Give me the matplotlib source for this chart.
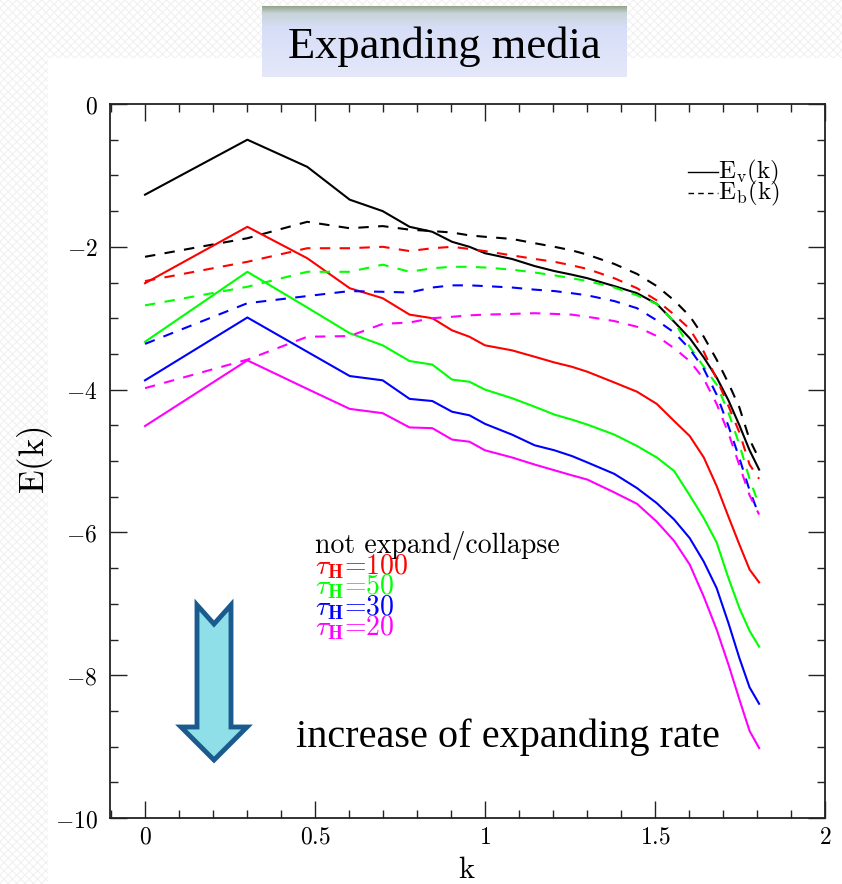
import numpy as np
import matplotlib
matplotlib.use("Agg")
import matplotlib.pyplot as plt
from matplotlib.patches import Polygon, Rectangle
from matplotlib.lines import Line2D
from matplotlib.ticker import MultipleLocator, FuncFormatter

plt.rcParams['mathtext.fontset'] = 'cm'
plt.rcParams['hatch.linewidth'] = 0.8

W, H = 842, 884

# wavenumbers of the spectrum; the horizontal axis is log10 of them
wavenumber = [1, 2, 3, 4, 5, 6, 7, 8, 9, 10, 12, 14, 16, 18, 20,
              24, 28, 32, 36, 40, 44, 48, 52, 56, 60, 64]

# log10 of kinetic (Ev) and magnetic (Eb) spectra
ev_static = [-1.27, -0.50, -0.88, -1.34, -1.50, -1.72, -1.79, -1.93, -2.00, -2.09, -2.17, -2.27, -2.34,
             -2.39, -2.44, -2.55, -2.65, -2.80, -3.05, -3.28, -3.55, -3.83, -4.15, -4.50, -4.85, -5.12]
eb_static = [-2.14, -1.88, -1.65, -1.74, -1.71, -1.76, -1.78, -1.80, -1.84, -1.86, -1.89, -1.95, -2.00,
             -2.05, -2.11, -2.24, -2.38, -2.55, -2.75, -2.97, -3.26, -3.58, -3.91, -4.25, -4.70, -4.97]

ev_tau100 = [-2.51, -1.72, -2.16, -2.58, -2.72, -2.95, -3.00, -3.17, -3.26, -3.38, -3.45, -3.54, -3.62,
             -3.68, -3.75, -3.90, -4.03, -4.20, -4.44, -4.65, -4.95, -5.35, -5.78, -6.17, -6.52, -6.70]
eb_tau100 = [-2.48, -2.21, -2.02, -2.02, -2.00, -2.06, -2.02, -2.00, -2.03, -2.06, -2.12, -2.17, -2.21,
             -2.26, -2.31, -2.44, -2.58, -2.75, -2.95, -3.15, -3.47, -3.85, -4.23, -4.60, -5.05, -5.25]

ev_tau50 = [-3.33, -2.35, -2.85, -3.21, -3.38, -3.60, -3.65, -3.86, -3.89, -4.00, -4.12, -4.24, -4.35,
            -4.42, -4.49, -4.63, -4.79, -4.95, -5.14, -5.48, -5.80, -6.14, -6.64, -7.06, -7.38, -7.60]
eb_tau50 = [-2.82, -2.56, -2.35, -2.35, -2.25, -2.35, -2.30, -2.28, -2.28, -2.29, -2.32, -2.36, -2.40,
            -2.44, -2.48, -2.57, -2.68, -2.80, -3.05, -3.40, -3.68, -3.93, -4.32, -4.77, -5.25, -5.62]

ev_tau30 = [-3.87, -2.99, -3.47, -3.81, -3.87, -4.13, -4.16, -4.31, -4.36, -4.48, -4.63, -4.78, -4.85,
            -4.93, -5.02, -5.18, -5.38, -5.59, -5.82, -6.08, -6.41, -6.78, -7.27, -7.76, -8.17, -8.40]
eb_tau30 = [-3.36, -2.79, -2.69, -2.62, -2.63, -2.64, -2.57, -2.54, -2.54, -2.55, -2.57, -2.60, -2.62,
            -2.65, -2.68, -2.76, -2.86, -3.03, -3.20, -3.43, -3.71, -4.07, -4.51, -4.96, -5.41, -5.76]

ev_tau20 = [-4.51, -3.59, -3.99, -4.27, -4.33, -4.53, -4.54, -4.70, -4.73, -4.85, -4.95, -5.05, -5.13,
            -5.20, -5.26, -5.44, -5.60, -5.85, -6.12, -6.45, -6.90, -7.36, -7.85, -8.34, -8.78, -9.02]
eb_tau20 = [-3.98, -3.58, -3.26, -3.25, -3.08, -3.06, -3.00, -2.98, -2.96, -2.95, -2.94, -2.93, -2.94,
            -2.95, -2.98, -3.04, -3.12, -3.25, -3.42, -3.60, -3.85, -4.20, -4.61, -5.06, -5.48, -5.75]

run_labels = ['not expand/collapse',
              r'$\tau_{\mathbf{H}}$=100',
              r'$\tau_{\mathbf{H}}$=50',
              r'$\tau_{\mathbf{H}}$=30',
              r'$\tau_{\mathbf{H}}$=20']
run_colors = ['black', '#ff0000', '#00ff00', '#0000ff', '#ff00ff']
ev_runs = [ev_static, ev_tau100, ev_tau50, ev_tau30, ev_tau20]
eb_runs = [eb_static, eb_tau100, eb_tau50, eb_tau30, eb_tau20]


def fpos(x, y):
    """pixel position (from top-left) to figure fraction"""
    return x / W, 1 - y / H


fig = plt.figure(figsize=(W / 100, H / 100), dpi=100)
fig.patch.set_facecolor('white')

# faint slide texture along the left edge and the top
for (x0, y0, w, h) in [(0, 0, 48, H), (48, 0, W - 48, 58)]:
    fx, fy = fpos(x0, y0 + h)
    fig.patches.append(Rectangle((fx, fy), w / W, h / H, transform=fig.transFigure,
                                 facecolor='white', edgecolor='#f1f1f1', hatch='xxxx',
                                 linewidth=0, zorder=-2))

# title banner with vertical gradient
tb = fig.add_axes([262 / W, 1 - 77 / H, 365 / W, 71 / H], zorder=1)
stops_pos = [0.0, 0.10, 0.30, 1.0]
stops_col = np.array([[0.58, 0.64, 0.56], [0.78, 0.83, 0.84], [0.84, 0.87, 0.97], [0.90, 0.91, 0.98]])
t = np.linspace(0, 1, 200)
grad = np.stack([np.interp(t, stops_pos, stops_col[:, c]) for c in range(3)], axis=-1)
tb.imshow(grad[:, None, :], aspect='auto', extent=(0, 1, 0, 1))
tb.set_axis_off()
tb.text(0.5, 0.42, 'Expanding media', ha='center', va='center',
        family='Liberation Serif', fontsize=32, color='black')

# main spectrum panel
ax = fig.add_axes([110 / W, 1 - 818 / H, (825 - 110) / W, (818 - 104) / H])
k = np.log10(wavenumber)
for ev, eb, col in zip(ev_runs, eb_runs, run_colors):
    ax.plot(k, ev, color=col, lw=1.5, solid_joinstyle='round')
    ax.plot(k, eb, color=col, lw=1.5, linestyle=(0, (5, 4.5)))

ax.set_xlim(-0.103, 2.0)
ax.set_ylim(-10, 0)
ax.xaxis.set_major_locator(MultipleLocator(0.5))
ax.xaxis.set_minor_locator(MultipleLocator(0.1))
ax.yaxis.set_major_locator(MultipleLocator(2))
ax.yaxis.set_minor_locator(MultipleLocator(0.5))
fmt = FuncFormatter(lambda v, _: '$%g$' % (0 if abs(v) < 1e-9 else v))
ax.xaxis.set_major_formatter(fmt)
ax.yaxis.set_major_formatter(fmt)
ax.tick_params(which='both', direction='in', top=True, right=True, width=1.0, color='#222222',
               labelsize=17)
ax.tick_params(which='major', length=12)
ax.tick_params(axis='x', which='major', pad=5)
ax.tick_params(axis='y', which='major', pad=9)
ax.tick_params(which='minor', length=6)
for s in ax.spines.values():
    s.set_linewidth(1.3)
    s.set_color('#222222')
ax.set_xlabel(r'$\mathrm{k}$', fontsize=22, va='top')
ax.xaxis.set_label_coords((467 - 110) / 715, (818 - 855) / 714)
ax.set_ylabel(r'$\mathrm{E(k)}$', fontsize=25, va='center')
ax.yaxis.set_label_coords((35 - 110) / 715, (818 - 460) / 714)

# line-style key (upper right)
for yy, ls, lab in [(172, '-', r'$\mathrm{E_{v}(k)}$'), (193, (0, (4, 3)), r'$\mathrm{E_{b}(k)}$')]:
    x0, y0 = fpos(688, yy)
    x1, _ = fpos(718, yy)
    fig.lines.append(Line2D([x0, x1], [y0, y0], transform=fig.transFigure, color='black',
                            lw=1.0, linestyle=ls))
    fig.text(x1, y0, lab, ha='left', va='center', fontsize=18, color='black')

# run labels
for i, (lab, col) in enumerate(zip(run_labels, run_colors)):
    fx, fy = fpos(315, 546 + 20.5 * i)
    fig.text(fx, fy, lab, ha='left', va='center', fontsize=20, color=col,
             family='cmr10')

# block arrow pointing down
cx = 214
arrow_px = [(cx - 17, 605), (cx, 624), (cx + 17, 605), (cx + 17, 727), (cx + 33, 727),
            (cx, 760), (cx - 33, 727), (cx - 17, 727)]
fig.patches.append(Polygon([fpos(x, y) for x, y in arrow_px], closed=True,
                           transform=fig.transFigure, facecolor='#8edfe8',
                           edgecolor='#1a5a8e', linewidth=3.5, joinstyle='miter', zorder=5))

fx, fy = fpos(296, 737)
fig.text(fx, fy, 'increase of expanding rate', ha='left', va='center',
         family='Liberation Serif', fontsize=29, color='black')

fig.savefig('out.png', dpi=100)
